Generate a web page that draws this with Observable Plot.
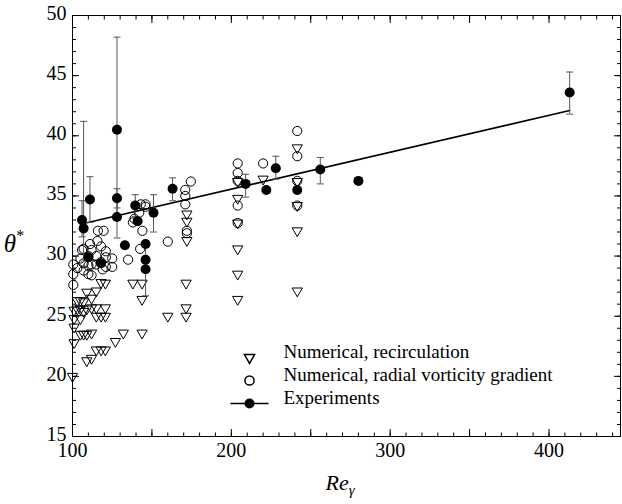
<!DOCTYPE html>
<html><head><meta charset="utf-8">
<script src="https://cdn.jsdelivr.net/npm/d3@7"></script>
<script src="https://cdn.jsdelivr.net/npm/@observablehq/plot@0.6"></script>
<style>body{margin:0;background:#fff} #chart{width:622px;height:504px}</style>
</head><body><div id="chart"></div>
<script>
// Numerical, recirculation (open down-triangles)
const recircRe    = [100,101,101,101,101,103,103,105,105,105,105,107,107,107,109,109,109,109,112,112,112,112,115,115,115,115,118,118,118,120.7,120.7,120.7,120.7,127,132,138,143.8,143.8,143.8,160,171.5,171.5,171.5,172,172,172,204,204,204,204,204,204,220,241.5,241.5,241.5,241.5,241.5];
const recircTheta = [20.0,22.8,24.1,24.8,25.5,25.6,26.3,23.5,24.8,25.6,26.3,23.5,25.4,26.2,21.3,23.5,25.6,27.0,21.5,23.6,25.7,26.5,22.2,25.0,25.7,27.1,22.2,25.0,27.8,22.2,25.0,25.7,27.75,22.9,23.6,27.75,23.6,26.4,27.75,25.0,25.0,25.7,27.75,31.3,32.9,33.5,26.4,28.5,30.6,32.75,34.8,36.2,36.4,27.1,32.1,34.2,36.2,39.0];
// Numerical, radial vorticity gradient (open circles)
const vortRe    = [100.5,100.5,100.5,103,105,106,107,107,107,110,110,110,111,112,112,112,115.7,115,115,116,119.6,118,118,119,121,121,121,125,125,135,138,139,142,143,146,144,142.6,146,160,171,171,171,172,172,174.5,204,204,204,204,204,220,241.5,241.5,241.5,241.5];
const vortTheta = [27.6,28.5,29.3,29.0,29.8,30.5,30.6,29.4,28.8,29.2,30.0,28.5,31.0,30.5,29.3,28.4,31.25,30.0,29.3,32.1,32.1,30.8,29.5,28.9,30.4,29.1,29.9,29.1,29.8,29.7,32.8,33.1,33.6,34.3,34.3,32.1,30.6,34.1,31.2,35.5,35.0,34.3,32.1,31.9,36.2,37.7,36.9,36.25,34.2,32.75,37.7,40.4,38.3,36.25,34.2];
// Experiments (filled circles) with error bars (null = no bar)
const expRe    = [106,107,111,110,118,128,128,128,133,139.5,141,146,146,146,151,163,209,222,228,241.5,256,280,413];
const expTheta = [33.0,32.3,34.7,29.9,29.4,40.5,34.8,33.25,30.9,34.2,32.9,31.0,29.7,28.9,33.6,35.6,36.0,35.5,37.3,35.5,37.2,36.25,43.6];
const expLo    = [31.6,29.6,32.8,null,null,33.0,34.0,31.5,null,33.3,null,null,null,26.7,32.0,34.6,34.9,null,36.4,null,36.0,null,41.8];
const expHi    = [34.6,41.2,36.6,null,null,48.2,35.6,35.0,null,35.1,null,null,null,31.0,35.1,36.5,36.8,null,38.3,null,38.2,null,45.3];
// Fitted line through experiments
const fitRe    = [105, 413];
const fitTheta = [32.65, 42.1];
// Axis ticks
const xTickLabels = [100, 200, 300, 400];
const xMajorTicks = [100, 150, 200, 250, 300, 350, 400];
const yTickLabels = [15, 20, 25, 30, 35, 40, 45, 50];
const xMinorTicks = d3.range(110, 445, 10);
const yMinorTicks = d3.range(16, 50, 1);
const legendLabels = ["Numerical, recirculation", "Numerical, radial vorticity gradient", "Experiments"];

const recirc = recircRe.map((re, i) => ({re, theta: recircTheta[i]}));
const vort = vortRe.map((re, i) => ({re, theta: vortTheta[i]}));
const exps = expRe.map((re, i) => ({re, theta: expTheta[i], lo: expLo[i], hi: expHi[i]}));
const bars = exps.filter(d => d.lo != null);
const fit = fitRe.map((re, i) => ({re, theta: fitTheta[i]}));

const capSymbol = {draw(ctx, size) { const w = 3.5; ctx.moveTo(-w, 0); ctx.lineTo(w, 0); }};
const blank = () => "";
const FONT = "Liberation Serif, Times New Roman, serif";

const plot = Plot.plot({
  width: 622, height: 504,
  marginLeft: 72, marginRight: 2, marginTop: 15, marginBottom: 68,
  x: {domain: [100, 445]},
  y: {domain: [15, 50]},
  style: {fontFamily: FONT, fontSize: "20px", color: "#000", background: "#fff", overflow: "visible"},
  marks: [
    Plot.axisX(xTickLabels, {anchor: "bottom", tickSize: 0, tickPadding: 6, label: null, fontSize: 20}),
    Plot.axisY(yTickLabels, {anchor: "left", tickSize: 0, tickPadding: 6, dy: -2, label: null, fontSize: 20}),
    Plot.axisX(xMajorTicks, {anchor: "bottom", tickSize: -7, tickFormat: blank, label: null}),
    Plot.axisX(xMinorTicks, {anchor: "bottom", tickSize: -3.5, tickFormat: blank, label: null}),
    Plot.axisX(xMajorTicks, {anchor: "top", tickSize: -7, tickFormat: blank, label: null}),
    Plot.axisX(xMinorTicks, {anchor: "top", tickSize: -3.5, tickFormat: blank, label: null}),
    Plot.axisY(yTickLabels, {anchor: "left", tickSize: -7, tickFormat: blank, label: null}),
    Plot.axisY(yMinorTicks, {anchor: "left", tickSize: -4, tickFormat: blank, label: null}),
    Plot.axisY(yTickLabels, {anchor: "right", tickSize: -7, tickFormat: blank, label: null}),
    Plot.axisY(yMinorTicks, {anchor: "right", tickSize: -4, tickFormat: blank, label: null}),
    Plot.frame({stroke: "#000", strokeWidth: 1}),
    Plot.dot(recirc, {x: "re", y: "theta", symbol: "triangle", rotate: 180, r: 3.8, stroke: "#000", strokeWidth: 1, fill: "none"}),
    Plot.dot(vort, {x: "re", y: "theta", symbol: "circle", r: 4.6, stroke: "#000", strokeWidth: 1, fill: "none"}),
    Plot.line(fit, {x: "re", y: "theta", stroke: "#000", strokeWidth: 1.6}),
    Plot.ruleX(bars, {x: "re", y1: "lo", y2: "hi", stroke: "#555", strokeWidth: 1}),
    Plot.dot(bars, {x: "re", y: "lo", symbol: capSymbol, stroke: "#555", strokeWidth: 1}),
    Plot.dot(bars, {x: "re", y: "hi", symbol: capSymbol, stroke: "#555", strokeWidth: 1}),
    Plot.dot(exps, {x: "re", y: "theta", r: 5, fill: "#000", stroke: "none"}),
    // legend
    Plot.dot([legendLabels[0]], {frameAnchor: "bottom-left", dx: 177, dy: -79, symbol: "triangle", rotate: 180, r: 3.8, stroke: "#000", fill: "none"}),
    Plot.dot([legendLabels[1]], {frameAnchor: "bottom-left", dx: 177, dy: -56, symbol: "circle", r: 4.6, stroke: "#000", fill: "none"}),
    Plot.text([legendLabels[0]], {frameAnchor: "bottom-left", dx: 211, dy: -79, text: d => d, textAnchor: "start", fontSize: 19}),
    Plot.text([legendLabels[1]], {frameAnchor: "bottom-left", dx: 211, dy: -56, text: d => d, textAnchor: "start", fontSize: 19}),
    Plot.text([legendLabels[2]], {frameAnchor: "bottom-left", dx: 211, dy: -33, text: d => d, textAnchor: "start", fontSize: 19}),
    Plot.dot([legendLabels[2]], {frameAnchor: "bottom-left", dx: 177, dy: -33, r: 5, fill: "#000"}),
    Plot.dot([legendLabels[2]], {frameAnchor: "bottom-left", dx: 177, dy: -33, symbol: {draw(ctx){ ctx.moveTo(-19,0); ctx.lineTo(19,0); }}, stroke: "#000", strokeWidth: 1.6})
  ]
});
document.getElementById("chart").appendChild(plot);

// axis titles with sub/superscripts
const svg = d3.select(plot);
const xt = svg.append("text").attr("x", 340).attr("y", 490)
  .attr("font-family", FONT).attr("font-style", "italic").attr("font-size", 22).attr("fill", "#000");
xt.append("tspan").text("Re");
xt.append("tspan").attr("font-size", 15).attr("dy", 5).text("γ");
const yt = svg.append("text").attr("x", 14).attr("y", 252)
  .attr("font-family", FONT).attr("font-style", "italic").attr("font-size", 25).attr("fill", "#000");
yt.append("tspan").text("θ");
yt.append("tspan").attr("font-size", 16).attr("font-style", "normal").attr("dy", -11).text("*");
</script>
</body></html>
